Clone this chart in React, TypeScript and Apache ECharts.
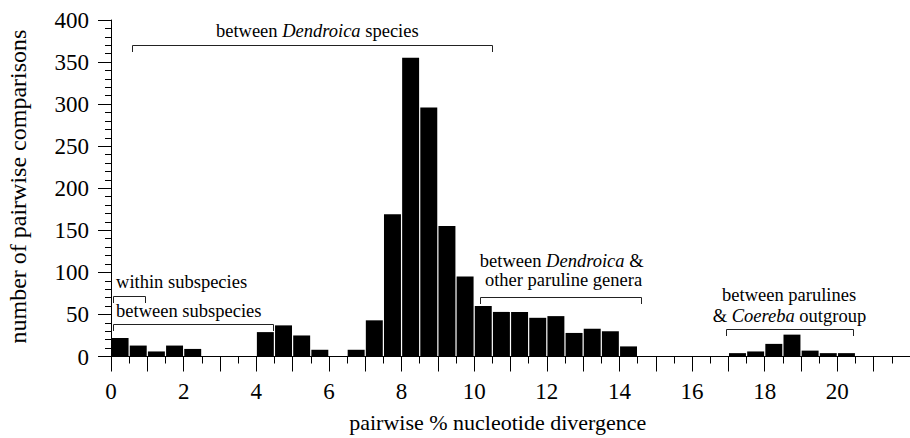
import React, { useEffect, useRef } from "react";
import * as echarts from "echarts";

// Histogram bins (lower edge, % divergence) and counts
const binLower = [0, 0.5, 1, 1.5, 2, 4, 4.5, 5, 5.5, 6.5, 7, 7.5, 8, 8.5, 9, 9.5, 10, 10.5, 11, 11.5, 12, 12.5, 13, 13.5, 14, 17, 17.5, 18, 18.5, 19, 19.5, 20];
const binWidth = 0.5;
const counts = [22, 13, 6, 13, 9, 29, 37, 25, 8, 8, 43, 169, 355, 296, 155, 95, 60, 53, 53, 46, 48, 28, 33, 30, 12, 4, 6, 15, 26, 7, 4, 4];

// Tick labels
const xLabelValues = [0, 2, 4, 6, 8, 10, 12, 14, 16, 18, 20];
const yLabelValues = [0, 50, 100, 150, 200, 250, 300, 350, 400];

const xTitle = "pairwise % nucleotide divergence";
const yTitle = "number of pairwise comparisons";

// Brackets (data coordinates)
const bracketStart = [0.57, 0.055, 0.055, 10.15, 16.94];
const bracketEnd = [10.5, 0.935, 4.47, 14.6, 20.44];
const bracketLevel = [370.4, 72.3, 38.3, 71.1, 32.7];

// Annotation labels (*word* = italic)
const labelTexts = [
  "between *Dendroica* species",
  "within subspecies",
  "between subspecies",
  "between *Dendroica* &",
  "other paruline genera",
  "between parulines",
  "& *Coereba* outgroup",
];
const labelX = [5.68, 0.14, 0.14, 12.41, 12.46, 18.67, 18.68];
const labelY = [386.7, 88.6, 54.1, 113.8, 91.0, 73.4, 47.7];
const labelAlign = ["center", "left", "left", "center", "center", "center", "center"];

const FAMILY = "Liberation Serif";

function fontStr(size: number, italic: boolean) {
  return (italic ? "italic " : "") + size + "px " + FAMILY;
}

function txt(x: number, y: number, text: string, size: number, align: string, italic = false, extra: any = {}) {
  return {
    type: "text",
    x,
    y,
    z: 100,
    silent: true,
    ...extra,
    style: {
      text,
      font: fontStr(size, italic),
      fontFamily: FAMILY,
      fontSize: size,
      fontStyle: italic ? "italic" : "normal",
      fill: "#000",
      align,
      verticalAlign: "middle",
    },
  };
}

export default function App() {
  const ref = useRef<HTMLDivElement>(null);
  useEffect(() => {
    if (!ref.current) return;
    const chart = echarts.init(ref.current, null, { renderer: "svg" });
    const option: any = {
      animation: false,
      grid: { left: 111, right: 0, top: 20, bottom: 81.5 },
      xAxis: {
        type: "value",
        min: 0,
        max: 22,
        interval: 1,
        splitLine: { show: false },
        axisLine: { show: true, lineStyle: { color: "#000", width: 1 } },
        axisTick: { show: true, length: 15, lineStyle: { color: "#000", width: 1 } },
        minorTick: { show: true, splitNumber: 2, length: 7, lineStyle: { color: "#000", width: 1 } },
        minorSplitLine: { show: false },
        axisLabel: { show: false },
      },
      yAxis: {
        type: "value",
        min: 0,
        max: 400,
        interval: 50,
        splitLine: { show: false },
        axisLine: { show: true, lineStyle: { color: "#000", width: 1 } },
        axisTick: { show: true, length: 13, lineStyle: { color: "#000", width: 1 } },
        minorTick: { show: true, splitNumber: 5, length: 6, lineStyle: { color: "#000", width: 1 } },
        minorSplitLine: { show: false },
        axisLabel: { show: false },
      },
      series: [
        {
          type: "custom",
          name: "bars",
          data: binLower.map((b, i) => [b, b + binWidth, counts[i]]),
          encode: { x: [0, 1], y: 2 },
          renderItem: (params: any, api: any) => {
            const p0 = api.coord([api.value(0), api.value(2)]);
            const p1 = api.coord([api.value(1), 0]);
            return {
              type: "rect",
              shape: { x: p0[0] + 0.6, y: p0[1], width: p1[0] - p0[0] - 1.2, height: p1[1] - p0[1] },
              style: { fill: "#000" },
            };
          },
          z: 3,
        },
        {
          type: "custom",
          name: "brackets",
          data: bracketStart.map((s, i) => [s, bracketEnd[i], bracketLevel[i]]),
          encode: { x: [0, 1], y: 2 },
          clip: false,
          renderItem: (params: any, api: any) => {
            const a = api.coord([api.value(0), api.value(2)]);
            const b = api.coord([api.value(1), api.value(2)]);
            const y = Math.round(a[1]) + 0.5;
            const x0 = Math.round(a[0]) + 0.5;
            const x1 = Math.round(b[0]) + 0.5;
            const drop = 6.5;
            return {
              type: "polyline",
              shape: { points: [[x0, y + drop], [x0, y], [x1, y], [x1, y + drop]] },
              style: { stroke: "#222", lineWidth: 1, fill: "none" },
            };
          },
          z: 4,
        },
      ],
    };
    chart.setOption(option);

    const canvas = document.createElement("canvas");
    const ctx = canvas.getContext("2d") as CanvasRenderingContext2D;
    const measure = (s: string, size: number, italic: boolean) => {
      ctx.font = fontStr(size, italic);
      return ctx.measureText(s).width;
    };

    const px = (x: number, y: number) => chart.convertToPixel({ gridIndex: 0 }, [x, y]) as number[];
    const origin = px(0, 0);
    const graphics: any[] = [];
    xLabelValues.forEach((v) => {
      const p = px(v, 0);
      graphics.push(txt(p[0], origin[1] + 34.5, String(v), 23, "center"));
    });
    yLabelValues.forEach((v) => {
      const p = px(0, v);
      graphics.push(txt(origin[0] - 22, p[1] + 0.5, String(v), 23, "right"));
    });

    const LSIZE = 18.5;
    labelTexts.forEach((t, i) => {
      const p = px(labelX[i], labelY[i]);
      const words = t.split(" ").map((w) => {
        const it = w.length > 2 && w.startsWith("*") && w.endsWith("*");
        return { w: it ? w.slice(1, -1) : w, it };
      });
      const space = measure(" ", LSIZE, false);
      const widths = words.map((o) => measure(o.w, LSIZE, o.it));
      const total = widths.reduce((a, b) => a + b, 0) + space * (words.length - 1);
      let cx = labelAlign[i] === "center" ? p[0] - total / 2 : p[0];
      words.forEach((o, k) => {
        graphics.push(txt(cx, p[1], o.w, LSIZE, "left", o.it));
        cx += widths[k] + space;
      });
    });

    const xt = px(10.65, 0);
    graphics.push(txt(xt[0], origin[1] + 65.5, xTitle, 22, "center"));
    const yt = px(0, 202);
    graphics.push(txt(origin[0] - 93, yt[1], yTitle, 24, "center", false, { rotation: Math.PI / 2 }));
    chart.setOption({ graphic: graphics });

    return () => chart.dispose();
  }, []);
  return (
    <div
      ref={ref}
      style={{ position: "fixed", left: 0, top: 0, width: 910, height: 438, background: "#fff" }}
    />
  );
}
